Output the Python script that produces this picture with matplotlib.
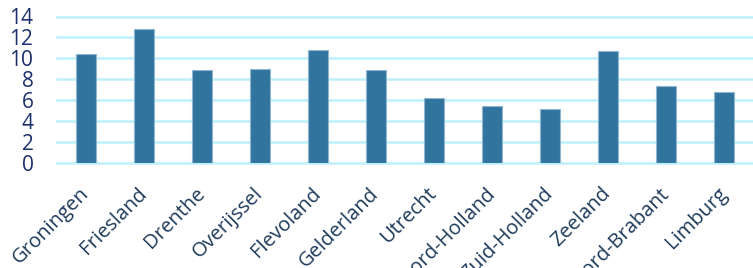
import matplotlib
matplotlib.use("Agg")
import matplotlib.pyplot as plt

provinces = ["Groningen", "Friesland", "Drenthe", "Overijssel", "Flevoland", "Gelderland",
             "Utrecht", "Noord-Holland", "Zuid-Holland", "Zeeland", "Noord-Brabant", "Limburg"]
values = [10.4, 12.8, 8.9, 9.0, 10.8, 8.9, 6.2, 5.4, 5.2, 10.7, 7.4, 6.8]
yticks = [0, 2, 4, 6, 8, 10, 12, 14]

plt.rcParams['font.family'] = ['Open Sans', 'DejaVu Sans']

fig = plt.figure(figsize=(7.53, 2.68), dpi=100)
ax = fig.add_axes([57/753, 1-163/268, 1-57/753, (163-16.5)/268])

x = range(len(provinces))
ax.bar(x, values, width=0.33, color="#31759f", edgecolor="#8fb5cf", linewidth=0.8, zorder=3)
ax.set_xlim(-0.5, len(provinces)-0.5)
ax.set_ylim(0, 14)
ax.set_yticks(yticks)
ax.set_yticklabels([str(v) for v in yticks], fontsize=15, color="#1b2f6b")
ax.set_xticks(list(x))
ax.set_xticklabels(provinces, rotation=45, ha="right", va="center", rotation_mode="anchor",
                   fontsize=14.5, color="#1d3a5a")
ax.tick_params(axis="y", length=0, pad=17)
ax.tick_params(axis="x", length=0, pad=20)
ax.grid(axis="y", color="#bdf0fc", linewidth=1.8, zorder=0)
for gl in ax.get_ygridlines():
    gl.set_clip_on(False)
for s in ax.spines.values():
    s.set_visible(False)

fig.savefig("out.png", dpi=100)
